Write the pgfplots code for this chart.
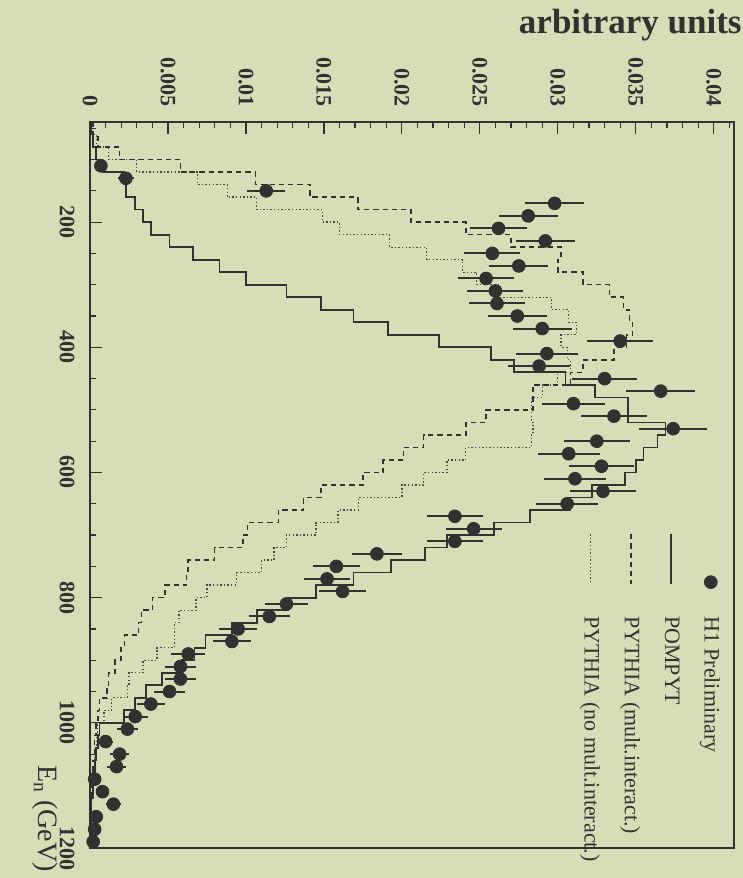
\documentclass[border=0pt]{standalone}
\usepackage{fontspec}
\setmainfont{Liberation Serif}
\usepackage{pgfplots}
\usepackage{pgfplotstable}
\pgfplotsset{compat=1.18}
\definecolor{bg}{RGB}{215,221,183}
\definecolor{ink}{RGB}{48,50,48}
\definecolor{dot}{RGB}{70,72,68}
\pgfplotsset{
  histleg/.style={legend image code/.code={\path[draw=none,fill=none] (0pt,-3.5pt) rectangle (28pt,3.5pt); \draw[##1] (0pt,0pt) -- (25pt,0pt);}},
  markleg/.style={legend image code/.code={\path[draw=none,fill=none] (0pt,-3.5pt) rectangle (28pt,3.5pt); \draw[##1] plot coordinates {(24pt,0pt)};}},
}

\pgfplotstableread{
E v
40 0.0001
60 0.0002
80 0.0004
100 0.0008
120 0.0022
140 0.0023
160 0.0029
180 0.0034
200 0.0039
220 0.0051
240 0.0066
260 0.0083
280 0.0100
300 0.0126
320 0.0148
340 0.0169
360 0.0191
380 0.0224
400 0.0257
420 0.0272
440 0.0305
460 0.0324
480 0.0345
500 0.0345
520 0.0369
540 0.0364
560 0.0355
580 0.0350
600 0.0343
620 0.0322
640 0.0308
660 0.0282
680 0.0259
700 0.0229
720 0.0215
740 0.0193
760 0.0169
780 0.0145
800 0.0127
820 0.0107
840 0.0091
860 0.0074
880 0.0067
900 0.0059
920 0.0046
940 0.0036
960 0.0029
980 0.0022
1000 0.0006
1020 0.0005
1040 0.0004
1060 0.0003
1080 0.0002
1100 0.0002
1120 0.0001
1140 0.0001
1160 0.0001
1180 0.0001
1200 0.0001
}\pompyt

\pgfplotstableread{
E v
40 0.0002
60 0.0005
80 0.0019
100 0.0058
120 0.0106
140 0.0141
160 0.0172
180 0.0206
200 0.0241
220 0.0270
240 0.0302
260 0.0300
280 0.0316
300 0.0333
320 0.0342
340 0.0346
360 0.0348
380 0.0344
400 0.0336
420 0.0316
440 0.0308
460 0.0284
480 0.0284
500 0.0254
520 0.0241
540 0.0214
560 0.0201
580 0.0188
600 0.0175
620 0.0148
640 0.0137
660 0.0121
680 0.0101
700 0.0098
720 0.0080
740 0.0063
760 0.0062
780 0.0048
800 0.0040
820 0.0033
840 0.0031
860 0.0022
880 0.0020
900 0.0016
920 0.0012
940 0.0011
960 0.0006
980 0.0005
1000 0.0004
1020 0.0003
1040 0.0003
1060 0.0002
1080 0.0002
1100 0.0001
1120 0.0001
1140 0.0001
1160 0.0001
1180 0.0000
1200 0.0000
}\pythmi

\pgfplotstableread{
E v
40 0.0001
60 0.0004
80 0.0012
100 0.0030
120 0.0069
140 0.0088
160 0.0107
180 0.0149
200 0.0160
220 0.0192
240 0.0216
260 0.0239
280 0.0248
300 0.0263
320 0.0296
340 0.0307
360 0.0312
380 0.0302
400 0.0306
420 0.0308
440 0.0300
460 0.0290
480 0.0283
500 0.0283
520 0.0284
540 0.0283
560 0.0241
580 0.0229
600 0.0214
620 0.0200
640 0.0172
660 0.0159
680 0.0145
700 0.0126
720 0.0118
740 0.0110
760 0.0094
780 0.0075
800 0.0068
820 0.0057
840 0.0054
860 0.0054
880 0.0043
900 0.0034
920 0.0025
940 0.0024
960 0.0014
980 0.0009
1000 0.0005
1020 0.0004
1040 0.0003
1060 0.0003
1080 0.0002
1100 0.0002
1120 0.0001
1140 0.0001
1160 0.0001
1180 0.0001
1200 0.0001
}\pythno

\pgfplotstableread{
E v e
110 0.0007 0.0003
130 0.0023 0.0005
150 0.0113 0.0012
170 0.0298 0.0019
190 0.0281 0.0019
210 0.0262 0.0018
230 0.0292 0.0019
250 0.0258 0.0018
270 0.0275 0.0019
290 0.0254 0.0018
310 0.0260 0.0018
330 0.0261 0.0018
350 0.0274 0.0019
370 0.0290 0.0019
390 0.0340 0.0021
410 0.0293 0.0020
430 0.0288 0.0020
450 0.0330 0.0021
470 0.0366 0.0022
490 0.0310 0.0020
510 0.0336 0.0021
530 0.0374 0.0022
550 0.0325 0.0021
570 0.0307 0.0020
590 0.0328 0.0021
610 0.0311 0.0020
630 0.0329 0.0021
650 0.0306 0.0020
670 0.0234 0.0018
690 0.0246 0.0018
710 0.0234 0.0018
730 0.0184 0.0016
750 0.0158 0.0015
770 0.0152 0.0015
790 0.0162 0.0015
810 0.0126 0.0014
830 0.0115 0.0013
850 0.0095 0.0012
870 0.0091 0.0012
890 0.0063 0.0011
910 0.0058 0.0010
930 0.0058 0.0010
950 0.0051 0.0010
970 0.0039 0.0009
990 0.0029 0.0008
1010 0.0024 0.0007
1030 0.0010 0.0005
1050 0.0019 0.0006
1070 0.0017 0.0006
1090 0.0003 0.0003
1110 0.0008 0.0004
1130 0.0015 0.0005
1150 0.0004 0.0003
1170 0.0003 0.0003
1190 0.0002 0.0002
}\hone

\begin{document}
\begin{tikzpicture}
\fill[bg] (-45pt,61pt) rectangle (326.5pt,-378pt);
\begin{scope}[transform canvas={rotate=-90}]
\begin{axis}[
  at={(0pt,0pt)}, anchor=south west,
  scale only axis, width=363pt, height=322pt,
  xmin=40, xmax=1200, ymin=0, ymax=0.0413,
  axis line style={line width=0.75pt, color=ink},
  xtick={200,400,600,800,1000,1200},
  minor xtick={50,100,150,250,300,350,450,500,550,650,700,750,850,900,950,1050,1100,1150},
  ytick={0,0.005,0.01,0.015,0.02,0.025,0.03,0.035,0.04},
  yticklabels={0,0.005,0.01,0.015,0.02,0.025,0.03,0.035,0.04},
  minor ytick={0.001,0.002,0.003,0.004,0.006,0.007,0.008,0.009,0.011,0.012,0.013,0.014,0.016,0.017,0.018,0.019,0.021,0.022,0.023,0.024,0.026,0.027,0.028,0.029,0.031,0.032,0.033,0.034,0.036,0.037,0.038,0.039,0.041},
  scaled y ticks=false,
  xtick pos=bottom, ytick pos=left,
  major tick length=6pt, minor tick length=3pt,
  tick style={line width=0.6pt, color=ink},
  /pgf/number format/assume math mode=true,
  /pgf/number format/1000 sep={},
  xticklabel style={font=\bfseries\fontsize{11}{13}\selectfont, text=ink, inner sep=0pt, yshift=-7.5pt},
  yticklabel style={font=\bfseries\fontsize{11}{13}\selectfont, text=ink, inner sep=0pt, xshift=-7.5pt},
  xlabel={E\textsubscript{n} (GeV)},
  every axis x label/.style={at={(rel axis cs:1,0)}, anchor=north east, inner sep=0pt, xshift=12pt, yshift=-16pt, font=\fontsize{14}{16}\selectfont, text=ink},
  ylabel={arbitrary units},
  every axis y label/.style={at={(rel axis cs:0,1)}, rotate=90, anchor=base east, inner sep=0pt, xshift=4pt, yshift=44pt, font=\bfseries\fontsize{17.5}{20}\selectfont, text=ink},
  reverse legend,
  legend cell align=left,
  legend style={draw=none, fill=none, inner sep=0pt, at={(rel axis cs:0.566,0.985)}, anchor=north west,
    font=\fontsize{11}{12}\selectfont, text=ink, row sep=7pt,
    /tikz/every odd column/.style={column sep=11pt}},
]
\addplot[const plot, dot, line width=0.65pt, dash pattern=on 0.7pt off 1.1pt, histleg]
  table[x=E,y=v]{\pythno};
\addlegendentry{PYTHIA (no mult.interact.)}
\addplot[const plot, ink, line width=0.75pt, dash pattern=on 2.6pt off 2pt, histleg]
  table[x=E,y=v]{\pythmi};
\addlegendentry{PYTHIA (mult.interact.)}
\addplot[const plot, ink, line width=0.85pt, histleg]
  table[x=E,y=v]{\pompyt};
\addlegendentry{POMPYT}
\addplot[only marks, mark=*, mark size=3.2pt, color=ink, mark options={fill=ink, draw=ink}, markleg,
  error bars/.cd, y dir=both, y explicit, error mark=none,
  error bar style={line width=1pt, color=ink}]
  table[x=E,y=v,y error=e]{\hone};
\addlegendentry{H1 Preliminary}
\end{axis}
\end{scope}
\pgfresetboundingbox
\path (-45pt,61pt) rectangle (326.5pt,-378pt);
\end{tikzpicture}
\end{document}
